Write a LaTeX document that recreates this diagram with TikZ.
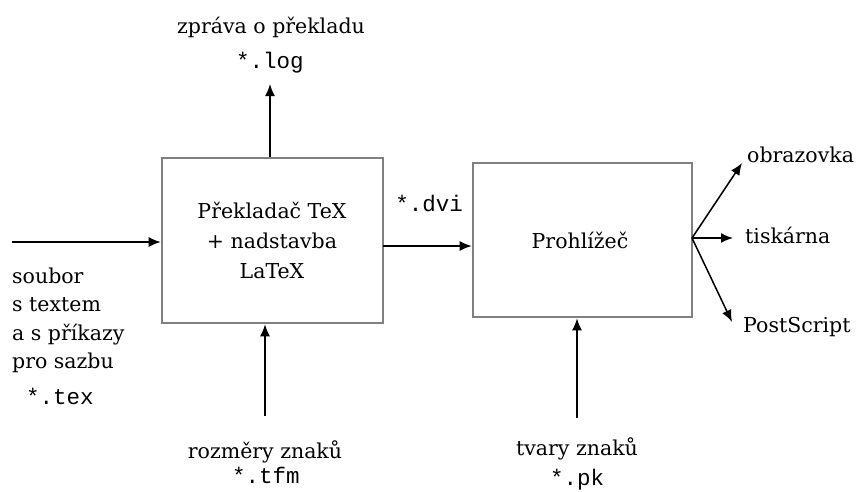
\documentclass[tikz,border=0pt]{standalone}
\usepackage{fontspec}
\setmainfont{DejaVu Serif}
\setmonofont{Liberation Mono}
\usetikzlibrary{arrows.meta}
\begin{document}
\begin{tikzpicture}[x=1pt,y=-1pt,
  box/.style={draw=black!50,line width=2.6pt,rectangle,inner sep=0pt},
  arr/.style={line width=1.5pt,-{Latex[length=12pt,width=10pt]}},
  lbl/.style={inner sep=0pt,font=\fontsize{20.5}{24}\selectfont},
  code/.style={inner sep=0pt,font=\fontsize{22.5}{26}\ttfamily}]
\useasboundingbox (0,0) rectangle (858,491);
\node[box,minimum width=221pt,minimum height=165pt] (b1) at (272.5,240.5) {};
\node[box,minimum width=219pt,minimum height=154pt] (b2) at (582.5,240) {};
\node[lbl,anchor=base] (b1a) at (272,218) {Překladač TeX};
\node[lbl,anchor=base] (b1b) at (272,248) {+ nadstavba};
\node[lbl,anchor=base] (b1c) at (272,278) {LaTeX};
\node[lbl,anchor=base] (b2t) at (580,248) {Prohlížeč};
% top
\node[lbl,anchor=base] (zp) at (271,33) {zpráva o překladu};
\node[code,anchor=base] (log) at (270,68) {*.log};
\coordinate (logtip) at (270,84);
\draw[arr] (b1.north -| logtip) -- (logtip);
% input
\coordinate (in0) at (12,242);
\draw[arr] (in0) -- (in0 -| b1.west);
\node[lbl,anchor=base west] (s1) at (12,283) {soubor};
\node[lbl,anchor=base west] (s2) at (12,311.5) {s textem};
\node[lbl,anchor=base west] (s3) at (12,340) {a s příkazy};
\node[lbl,anchor=base west] (s4) at (12,368) {pro sazbu};
\node[code,anchor=base west] (tex) at (26,404) {*.tex};
% dvi
\coordinate (dv) at (383,246);
\draw[arr] (dv) -- (dv -| b2.west);
\node[code,anchor=base] (dvi) at (429,211) {*.dvi};
% bottom
\coordinate (tfm0) at (265,416);
\draw[arr] (tfm0) -- (tfm0 |- b1.south);
\node[lbl,anchor=base] (rz) at (265,458) {rozměry znaků};
\node[code,anchor=base] (tfm) at (266,483) {*.tfm};
\coordinate (pk0) at (577,418);
\draw[arr] (pk0) -- (pk0 |- b2.south);
\node[lbl,anchor=base] (tv) at (577,455) {tvary znaků};
\node[code,anchor=base] (pk) at (577,485) {*.pk};
% fan
\coordinate (fo) at (692,238);
\node[lbl,anchor=base west] (obr) at (747,162) {obrazovka};
\node[lbl,anchor=base west] (tis) at (745,243) {tiskárna};
\node[lbl,anchor=base west] (ps) at (743,332) {PostScript};
\draw[arr] (fo) -- (742,163);
\draw[arr] (fo) -- (733,238);
\draw[arr] (fo) -- (732,322);
\end{tikzpicture}
\end{document}
